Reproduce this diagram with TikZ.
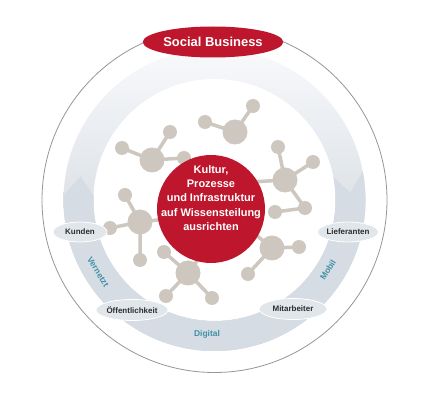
\documentclass[tikz,border=0pt]{standalone}
\usepackage{fontspec}
\setmainfont{Liberation Sans}
\usetikzlibrary{shapes.geometric}
\definecolor{sbred}{RGB}{190,22,44}
\definecolor{ball}{RGB}{206,199,191}
\definecolor{bandtop}{RGB}{248,249,251}
\definecolor{bandbot}{RGB}{196,205,214}
\definecolor{banddk}{RGB}{213,220,228}
\definecolor{lbl}{RGB}{225,230,235}
\definecolor{ringteal}{RGB}{64,146,165}
\definecolor{txt}{RGB}{45,45,45}
\definecolor{rim}{RGB}{150,150,150}
\begin{document}
\begin{tikzpicture}[x=1bp,y=1bp,
  bigball/.style={circle,fill=ball,minimum size=25bp,inner sep=0},
  smallball/.style={circle,fill=ball,minimum size=14bp,inner sep=0},
  bond/.style={draw=ball,line width=3.5bp},
  tag/.style={ellipse,fill=lbl,draw=white,line width=0.8bp,inner sep=0,
    font=\bfseries\fontsize{8}{9}\selectfont,text=txt},
  ringword/.style={font=\bfseries\fontsize{8.5}{10}\selectfont,text=ringteal}]
\useasboundingbox (0,0) rectangle (429,400);
\fill[white] (0,0) rectangle (429,400);
\coordinate (C) at (214.5,200);
\draw[rim,line width=0.8bp] (C) circle[radius=172.5];
% light ring
\shade[top color=bandtop,bottom color=bandbot] (C) circle[radius=151];
\fill[white] (C) circle[radius=121];
% dark arrow band
\fill[banddk,shift={(214.5,200)}] (178:151) -- (170:136) -- (178:121)
  arc[start angle=178,end angle=371,radius=121] -- (363:136) -- (371:151)
  arc[start angle=371,end angle=178,radius=151] -- cycle;
% molecule centres
\coordinate (a0) at (235,268); \coordinate (a1) at (253,294); \coordinate (a2) at (205,278);
\coordinate (b0) at (152,240); \coordinate (b1) at (122,252); \coordinate (b2) at (170,268); \coordinate (b3) at (184,242);
\coordinate (c0) at (285,220); \coordinate (c1) at (278,253); \coordinate (c2) at (313,238); \coordinate (c3) at (305,192); \coordinate (c4) at (275,188); \coordinate (c5) at (250,218);
\coordinate (d0) at (140,178); \coordinate (d1) at (125,205); \coordinate (d2) at (140,140); \coordinate (d3) at (110,172); \coordinate (d4) at (175,182);
\coordinate (e0) at (188,127); \coordinate (e1) at (164,148); \coordinate (e2) at (166,104); \coordinate (e3) at (212,102); \coordinate (e4) at (205,150);
\coordinate (f0) at (272,152); \coordinate (f1) at (299,153); \coordinate (f2) at (248,126); \coordinate (f3) at (250,170);
% bonds
\draw[bond] (a0) -- (a1) (a0) -- (a2);
\draw[bond] (b0) -- (b1) (b0) -- (b2) (b0) -- (b3);
\draw[bond] (c0) -- (c1) (c0) -- (c2) (c0) -- (c3) (c3) -- (c4) (c0) -- (c5);
\draw[bond] (d0) -- (d1) (d0) -- (d2) (d0) -- (d3) (d0) -- (d4);
\draw[bond] (e0) -- (e1) (e0) -- (e2) (e0) -- (e3) (e0) -- (e4);
\draw[bond] (f0) -- (f1) (f0) -- (f2) (f0) -- (f3);
% balls
\node[bigball] (A0) at (a0) {}; \node[smallball] (A1) at (a1) {}; \node[smallball] (A2) at (a2) {};
\node[bigball] (B0) at (b0) {}; \node[smallball] (B1) at (b1) {}; \node[smallball] (B2) at (b2) {}; \node[smallball] (B3) at (b3) {};
\node[bigball] (C0) at (c0) {}; \node[smallball] (C1) at (c1) {}; \node[smallball] (C2) at (c2) {}; \node[smallball] (C3) at (c3) {}; \node[smallball] (C4) at (c4) {};
\node[bigball] (D0) at (d0) {}; \node[smallball] (D1) at (d1) {}; \node[smallball] (D2) at (d2) {}; \node[smallball] (D3) at (d3) {};
\node[bigball] (E0) at (e0) {}; \node[smallball] (E1) at (e1) {}; \node[smallball] (E2) at (e2) {}; \node[smallball] (E3) at (e3) {};
\node[bigball] (F0) at (f0) {}; \node[smallball] (F1) at (f1) {}; \node[smallball] (F2) at (f2) {};
% centre
\node[circle,fill=sbred,minimum size=108bp,inner sep=0] (core) at (211,191) {};
\node[text=white,align=center,font=\bfseries\fontsize{11}{14.4}\selectfont] (coretext) at (211,202)
  {Kultur,\\Prozesse\\und Infrastruktur\\auf Wissensteilung\\ausrichten};
% ring labels
\node[tag,minimum width=54bp,minimum height=20bp] (kunden) at (80,168) {Kunden};
\node[tag,minimum width=54bp,minimum height=20bp] (liefer) at (348,168) {Lieferanten};
\node[tag,minimum width=70bp,minimum height=21bp] (oeff) at (132,90) {Öffentlichkeit};
\node[tag,minimum width=68bp,minimum height=21bp] (mitarb) at (293,91) {Mitarbeiter};
\node[ringword,rotate=-58] (vernetzt) at (98,128) {Vernetzt};
\node[ringword,rotate=58] (mobil) at (328,130) {Mobil};
\node[ringword] (digital) at (207,66) {Digital};
% top
\node[ellipse,fill=sbred,minimum width=134bp,minimum height=31bp,inner sep=0,text=white,
  font=\bfseries\fontsize{13}{15}\selectfont] (sb) at (213,358) {Social Business};
\end{tikzpicture}
\end{document}
